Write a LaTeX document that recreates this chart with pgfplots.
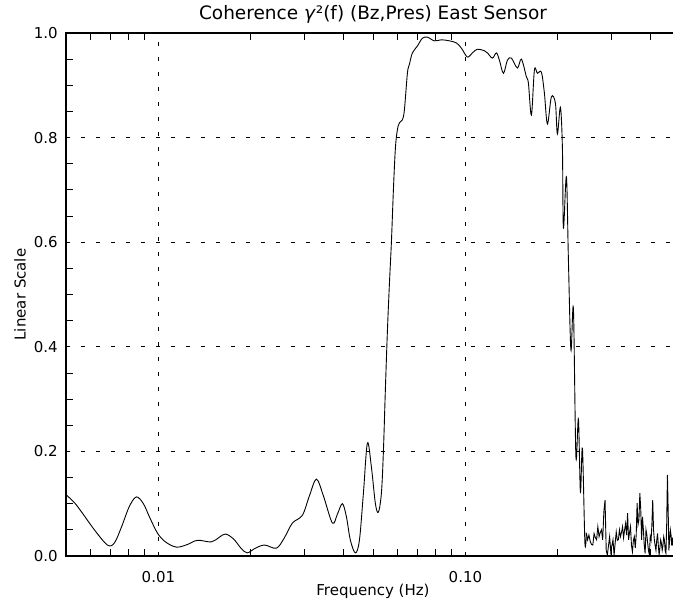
\documentclass[border=0pt]{standalone}
\usepackage{fontspec}
\setmainfont{DejaVu Sans}
\usepackage{pgfplots}
\pgfplotsset{compat=1.18}
\usetikzlibrary{calc}

\begin{document}
\begin{tikzpicture}
\begin{axis}[
    name=ax,
    scale only axis,
    width=614pt, height=523pt,
    xmode=log,
    xmin=0.005, xmax=0.5,
    ymin=0, ymax=1,
    xtick={0.01,0.1},
    xticklabels={0.01,0.10},
    minor xtick={0.005,0.006,0.007,0.008,0.009,0.02,0.03,0.04,0.05,0.06,0.07,0.08,0.09,0.2,0.3,0.4,0.5},
    ytick={0,0.2,0.4,0.6,0.8,1},
    yticklabels={0.0,0.2,0.4,0.6,0.8,1.0},
    minor ytick={0.05,0.1,0.15,0.25,0.3,0.35,0.45,0.5,0.55,0.65,0.7,0.75,0.85,0.9,0.95},
    grid=major,
    major grid style={black, line width=0.8pt, dash pattern=on 4pt off 11pt},
    major tick length=0pt,
    minor tick length=7pt,
    tick align=inside,
    tick style={black, line width=0.8pt},
    axis line style={line width=1.2pt},
    tick label style={font=\fontsize{15}{18}\selectfont, inner sep=0pt},
    xticklabel style={anchor=center, yshift=-21pt},
    yticklabel style={anchor=east, xshift=-8pt},
    xlabel={Frequency (Hz)},
    ylabel={Linear Scale},
    title={Coherence \textit{γ}²(f) (Bz,Pres) East Sensor},
    every axis x label/.style={at={(axis description cs:0.5,-0.067)}, anchor=center, font=\fontsize{15}{18}\selectfont},
    every axis y label/.style={at={(axis description cs:-0.075,0.5)}, anchor=center, rotate=90, font=\fontsize{15}{18}\selectfont},
    every axis title/.style={at={(axis description cs:0.5,1.036)}, anchor=center, font=\fontsize{18.5}{22}\selectfont},
]
% smooth part of the coherence curve
\addplot[black, line width=0.9pt, no marks, smooth, tension=0.55] coordinates {
(0.004941,0.120) (0.005326,0.102) (0.005655,0.082) (0.006188,0.050) (0.006821,0.021)
(0.007189,0.025) (0.007577,0.055) (0.008045,0.095) (0.008479,0.113) (0.008936,0.100)
(0.009347,0.075) (0.009925,0.044) (0.010539,0.027) (0.011446,0.017) (0.012430,0.022)
(0.013398,0.030) (0.014881,0.027) (0.015801,0.036) (0.016529,0.042) (0.017551,0.033)
(0.018636,0.014) (0.019494,0.006) (0.020544,0.014) (0.022144,0.021) (0.024231,0.015)
(0.025729,0.035) (0.027320,0.063) (0.029447,0.078) (0.031035,0.115) (0.032708,0.147)
(0.034471,0.115) (0.036878,0.063) (0.038287,0.080) (0.039750,0.100) (0.040961,0.075)
(0.042208,0.030) (0.043821,0.006) (0.045155,0.030) (0.046531,0.120) (0.047948,0.216)
(0.049408,0.170) (0.050913,0.100) (0.052072,0.084) (0.053257,0.120) (0.054061,0.200)
(0.054879,0.320) (0.055708,0.430) (0.056550,0.520) (0.057405,0.600) (0.058273,0.700)
(0.059153,0.780) (0.060047,0.815) (0.060955,0.828) (0.062342,0.834) (0.063284,0.853)
(0.064724,0.923) (0.065702,0.940) (0.067197,0.962) (0.069764,0.975) (0.072430,0.990)
(0.075197,0.992) (0.079250,0.985) (0.083522,0.987) (0.088687,0.985) (0.093467,0.981)
(0.097038,0.971) (0.10151,0.954) (0.10539,0.962) (0.10942,0.969) (0.11532,0.966)
(0.11794,0.962) (0.12245,0.952) (0.12618,0.962) (0.12905,0.948) (0.13298,0.923)
(0.13703,0.948) (0.14120,0.952) (0.14770,0.933) (0.15220,0.950) (0.15801,0.916)
(0.16040,0.904) (0.16405,0.843) (0.16778,0.929) (0.17160,0.923) (0.17683,0.925)
(0.18085,0.885) (0.18497,0.826) (0.19060,0.878) (0.19641,0.866) (0.19938,0.807)
(0.20392,0.858) (0.20700,0.780) (0.20856,0.627) (0.21331,0.725) (0.21653,0.566)
(0.22063,0.394) (0.22480,0.472) (0.22906,0.190) (0.23339,0.262) (0.23692,0.122)
(0.24050,0.206) (0.24505,0.025) (0.24782,0.044)
};
% noisy high-frequency part
\addplot[black, line width=0.9pt, no marks] coordinates {
(0.24782,0.044)
(0.2500,0.031) (0.2525,0.040) (0.2550,0.028) (0.2575,0.022) (0.2600,0.021)
(0.2625,0.043) (0.2650,0.035) (0.2675,0.031) (0.2700,0.056) (0.2725,0.037)
(0.2750,0.045) (0.2775,0.050) (0.2800,0.031) (0.2825,0.085) (0.2850,0.107)
(0.2875,0.011) (0.2900,0.002) (0.2925,0.020) (0.2950,0.037) (0.2975,0.008)
(0.3000,0.020) (0.3025,0.031) (0.3050,0.002) (0.3075,0.025) (0.3100,0.046)
(0.3125,0.030) (0.3150,0.031) (0.3175,0.050) (0.3200,0.037) (0.3225,0.045)
(0.3250,0.056) (0.3275,0.035) (0.3300,0.050) (0.3325,0.062) (0.3350,0.040)
(0.3375,0.082) (0.3400,0.031) (0.3425,0.045) (0.3450,0.056) (0.3475,0.020)
(0.3500,0.008) (0.3525,0.030) (0.3550,0.037) (0.3575,0.015) (0.3600,0.040)
(0.3625,0.101) (0.3650,0.060) (0.3675,0.069) (0.3700,0.120) (0.3725,0.090)
(0.3750,0.031) (0.3775,0.075) (0.3800,0.050) (0.3825,0.020) (0.3850,0.005)
(0.3875,0.050) (0.3900,0.040) (0.3925,0.024) (0.3950,0.010) (0.3975,0.002)
(0.4000,0.037) (0.4025,0.030) (0.4050,0.060) (0.4075,0.107) (0.4100,0.050)
(0.4125,0.031) (0.4150,0.020) (0.4175,0.011) (0.4200,0.030) (0.4225,0.043)
(0.4250,0.020) (0.4275,0.002) (0.4300,0.015) (0.4325,0.031) (0.4350,0.025)
(0.4375,0.011) (0.4400,0.020) (0.4425,0.037) (0.4450,0.030) (0.4475,0.010)
(0.4500,0.005) (0.4525,0.060) (0.4550,0.155) (0.4575,0.090) (0.4600,0.011)
(0.4625,0.030) (0.4650,0.050) (0.4675,0.040) (0.4700,0.020) (0.4725,0.035)
(0.4750,0.020) (0.4800,0.050) (0.4900,0.030) (0.5000,0.040)
};
\end{axis}
\pgfresetboundingbox
\path[use as bounding box] ($(ax.south west)+(-66pt,-51pt)$) rectangle ($(ax.north east)+(-7pt,33pt)$);
\end{tikzpicture}
\end{document}
